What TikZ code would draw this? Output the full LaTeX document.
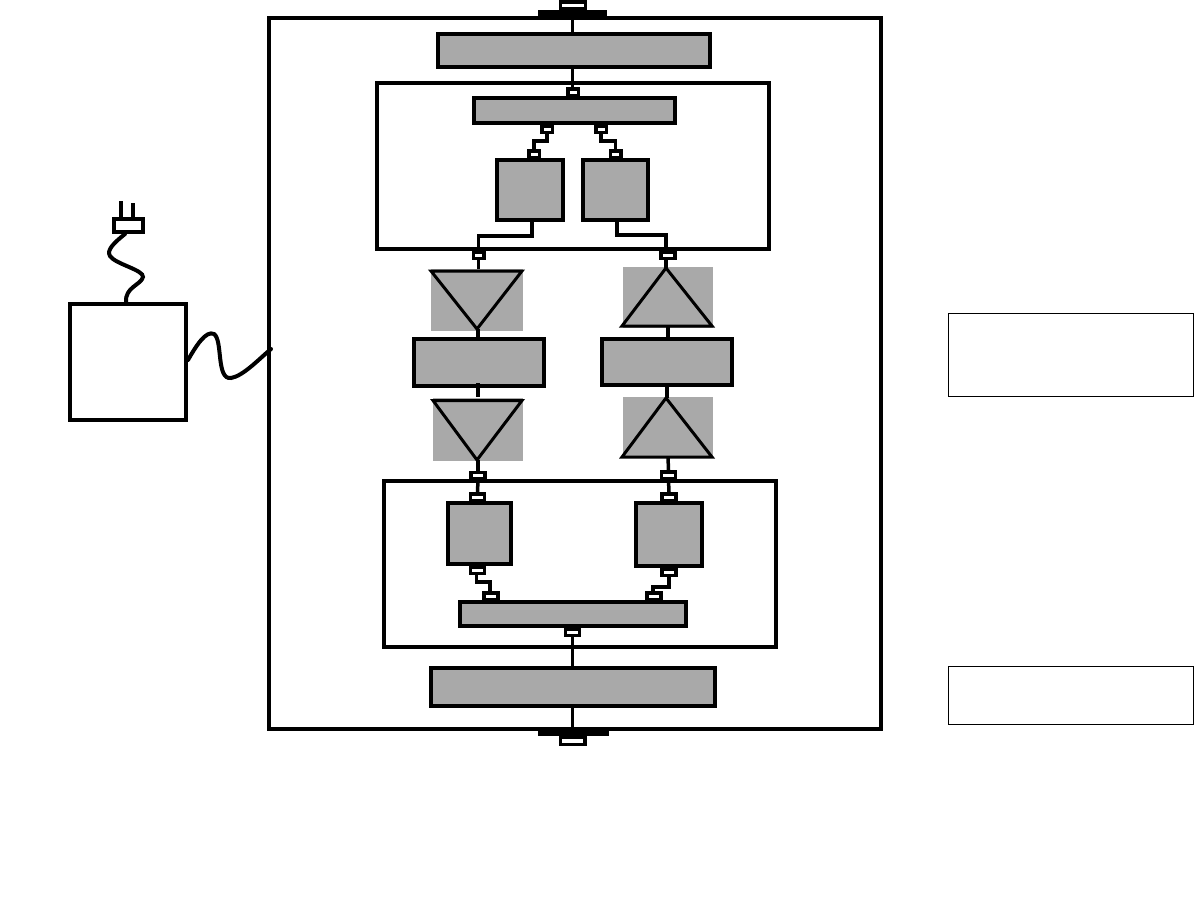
\documentclass[tikz,border=0pt]{standalone}
\usetikzlibrary{positioning}
\definecolor{unitgray}{HTML}{A9A9A9}

\begin{document}
\begin{tikzpicture}[
  x=1pt, y=-1pt,
  unit/.style 2 args={draw, line width=4pt, fill=unitgray, inner sep=0pt, minimum width=#1pt, minimum height=#2pt},
  frame/.style 2 args={draw, line width=4pt, inner sep=0pt, minimum width=#1pt, minimum height=#2pt},
  legend/.style 2 args={draw, line width=0.8pt, inner sep=0pt, minimum width=#1pt, minimum height=#2pt},
  port/.style={draw, line width=3.5pt, fill=white, inner sep=0pt, minimum width=10.5pt, minimum height=6.5pt},
  wideport/.style={port, minimum width=14pt},
  mount/.style={fill=black, inner sep=0pt, minimum height=7pt},
  shade/.style 2 args={fill=unitgray, inner sep=0pt, minimum width=#1pt, minimum height=#2pt},
  tri/.style={draw, line width=3pt, line join=miter},
  wire/.style={line width=3.5pt},
  link/.style={line width=3.2pt},
  cord/.style={line width=4pt, line cap=round},
]
  \useasboundingbox (0,0) rectangle (1194,905);

  % housing and inner frames
  \node[frame={612}{711}] (housing) at (575,373.5) {};
  \node[frame={392}{166}] (upperbay) at (573,166) {};
  \node[frame={392}{166}] (lowerbay) at (579.8,564) {};

  % top stack
  \node[unit={272}{33}] (headbar) at (574,50.5) {};
  \node[unit={201}{25}] (splitbar) at (574.5,110.5) {};
  \node[unit={66}{60}] (sqa) at (530,190) {};
  \node[unit={65}{60}] (sqb) at (615.5,190) {};
  \node[port, above=-1pt of splitbar, xshift=-1.5pt] (pa) {};
  \node[port, below=-1pt of splitbar, xshift=-27.5pt] (pb) {};
  \node[port, below=-1pt of splitbar, xshift=26.5pt] (pc) {};
  \node[port, above=-1pt of sqa, xshift=4pt] (pd) {};
  \node[port, above=-1pt of sqb] (pe) {};
  \node[port] (pf) at (478.5,255) {};
  \node[wideport] (pg) at (668,255) {};

  % amplifier columns
  \node[shade={92}{62}] (shadea) at (477,300) {};
  \node[shade={90}{61}] (shadeb) at (668,297.5) {};
  \node[unit={130}{47}] (blocka) at (479,362.5) {};
  \node[unit={130}{46}] (blockb) at (667,362) {};
  \node[shade={90}{63}] (shadec) at (478,429.5) {};
  \node[shade={90}{60}] (shaded) at (668,427) {};
  \coordinate (tipa) at (477,329);
  \coordinate (tipb) at (666,268);
  \coordinate (tipc) at (477,460);
  \coordinate (tipd) at (666,398);
  \draw[tri] (431,271) -- (522,271) -- (tipa) -- cycle;
  \draw[tri] (tipb) -- (712,326) -- (622,326) -- cycle;
  \draw[tri] (433,400.5) -- (522,400.5) -- (tipc) -- cycle;
  \draw[tri] (tipd) -- (712,457) -- (622,457) -- cycle;

  % bottom stack
  \node[unit={63}{61}] (sqc) at (479.5,533.5) {};
  \node[unit={66}{63}] (sqd) at (669,534.5) {};
  \node[unit={226}{24}] (mergebar) at (573,614) {};
  \node[unit={284}{38}] (footbar) at (573,687) {};
  \node[wideport] (ph) at (478,475.5) {};
  \node[wideport] (pi) at (668.5,475) {};
  \node[wideport, above=-1pt of sqc, xshift=-2pt] (pj) {};
  \node[wideport, above=-1pt of sqd] (pk) {};
  \node[wideport, below=-1pt of sqc, xshift=-2pt] (pl) {};
  \node[wideport, below=-1pt of sqd] (pm) {};
  \node[wideport, above=-1pt of mergebar, xshift=-82pt] (pn) {};
  \node[wideport, above=-1pt of mergebar, xshift=81pt] (po) {};
  \node[wideport, below=-1pt of mergebar, xshift=-0.5pt] (pp) {};

  % feed-throughs
  \node[mount, minimum width=69pt] (mounta) at (572.5,13.5) {};
  \node[mount, minimum width=71pt] (mountb) at (573.5,732.5) {};
  \node[draw, line width=3.5pt, fill=white, inner sep=0pt, minimum width=25pt, minimum height=6.5pt] (plugtop) at (573,5) {};
  \node[draw, line width=3.5pt, fill=white, inner sep=0pt, minimum width=24.5pt, minimum height=7pt] (plugbot) at (572.5,741) {};

  % connectors
  \draw[wire] (mounta.south -| pp) -- (pp |- headbar.north);
  \draw[wire] (pp |- headbar.south) -- (pp |- pa.north);
  \draw[link] (pb.south) -- ++(0,7) -| (pd.north);
  \draw[link] (pc.south) -- ++(0,7) -| (pe.north);
  \draw[wire] (532,222) -- (532,236) -| (pf.north);
  \draw[wire] (617,222) -- (617,235) -| (666,250);
  \draw[wire] (pf.south) -- (pf.south |- shadea.north);
  \draw[wire] (666,259) -- (tipb);
  \draw[wire] (478,329) -- (478,339);
  \draw[wire] (478,383) -- (478,397);
  \draw[wire] (668,326) -- (668,339);
  \draw[wire] (667,385) -- (667,398);
  \draw[wire] (478,460) -- (ph.north);
  \draw[wire] (668,457) -- (pi.north);
  \draw[wire] (ph.south) -- (pj.north);
  \draw[wire] (pi.south) -- (pk.north);
  \draw[link] (pl.south) -- ++(-1,0) |- (490,582) -- (490,592);
  \draw[link] (pm.south) -- ++(0,10) -| (653,592);
  \draw[wire] (pp.south) -- (footbar.north -| pp);
  \draw[wire] (footbar.south -| pp) -- (mountb.north -| pp);

  % power pack and cords
  \node[frame={116}{116}] (pack) at (128,362) {};
  \node[port, line width=4pt, minimum width=29pt, minimum height=13pt] (plug) at (128,225.5) {};
  \coordinate (pronga) at (121,201);
  \coordinate (prongb) at (133,203);
  \draw[cord, line cap=butt] (pronga) -- (pronga |- plug.north);
  \draw[cord, line cap=butt] (prongb) -- (prongb |- plug.north);
  \coordinate (housingin) at (271,349);
  \draw[cord] (plug.south) ++(-3,0) .. controls (115,242) and (106,250) .. (110,256)
    .. controls (115,264) and (144,270) .. (143,277)
    .. controls (141,285) and (125,287) .. (126,302);
  \draw[cord] (pack.east |- 0,360) .. controls (196,346) and (206,330) .. (214,334)
    .. controls (223,340) and (216,380) .. (231,378)
    .. controls (243,376) and (258,360) .. (housingin);

  % key boxes
  \node[legend={245}{83}] (keya) at (1070.5,354.5) {};
  \node[legend={245}{58}] (keyb) at (1070.5,695.5) {};
\end{tikzpicture}
\end{document}
